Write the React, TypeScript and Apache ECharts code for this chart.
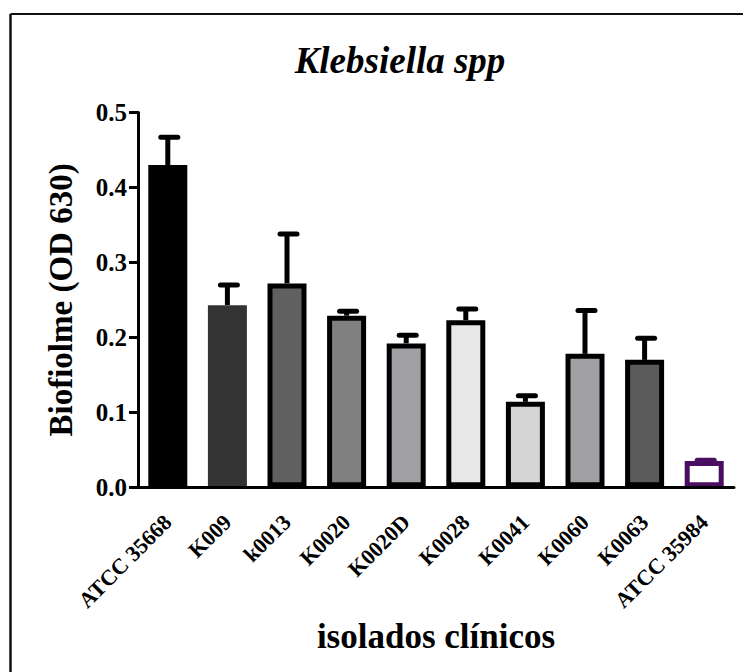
import React, { useEffect, useRef } from "react";
import * as echarts from "echarts";

const categories = ["ATCC 35668", "K009", "k0013", "K0020", "K0020D", "K0028", "K0041", "K0060", "K0063", "ATCC 35984"];
const means = [0.43, 0.243, 0.272, 0.229, 0.192, 0.223, 0.114, 0.178, 0.17, 0.035];
const errors = [0.037, 0.027, 0.066, 0.006, 0.011, 0.015, 0.008, 0.058, 0.029, 0.001];
const yTicks = [0, 0.1, 0.2, 0.3, 0.4, 0.5];
const titleText = "Klebsiella spp";
const yName = "Biofiolme (OD 630)";
const xName = "isolados clínicos";

const fillColors = ["#000000", "#333333", "#606060", "#808080", "#a0a0a4", "#e8e8e8", "#d4d4d4", "#a0a0a4", "#5a5a5a", "#ffffff"];
const borderColors = ["#000000", "#333333", "#000000", "#000000", "#000000", "#000000", "#000000", "#000000", "#000000", "#4b0d5f"];
const borderWidths = [0, 0, 5, 5, 5, 5, 5, 5, 5, 5];

const FONT = "'Times New Roman', 'Liberation Serif', 'DejaVu Serif', serif";

export default function App() {
  const ref = useRef<HTMLDivElement>(null);
  useEffect(() => {
    if (!ref.current) return;
    const chart = echarts.init(ref.current, null, { renderer: "svg" });
    const barData = means.map((v, i) => ({
      value: v,
      itemStyle: { color: fillColors[i], borderColor: borderColors[i], borderWidth: borderWidths[i] },
    }));
    const errData = means.map((v, i) => [i, v, v + errors[i]]);
    chart.setOption({
      animation: false,
      backgroundColor: "#ffffff",
      graphic: [
        { type: "line", shape: { x1: 10.5, y1: 14, x2: 743, y2: 14 }, style: { stroke: "#111", lineWidth: 2 } },
        { type: "line", shape: { x1: 10.5, y1: 14, x2: 10.5, y2: 672 }, style: { stroke: "#111", lineWidth: 2.5 } },
        {
          type: "text",
          x: 400,
          y: 60,
          style: {
            text: titleText,
            font: `italic bold 37px ${FONT}`,
            fill: "#000",
            align: "center",
            verticalAlign: "middle",
          },
        },
      ],
      grid: { left: 138, right: 9, top: 112.5, bottom: 184.7, containLabel: false },
      xAxis: {
        type: "category",
        z: 3,
        data: categories,
        name: xName,
        nameLocation: "middle",
        nameGap: 128,
        nameTextStyle: { fontFamily: FONT, fontWeight: "bold", fontSize: 35, color: "#000", verticalAlign: "top" },
        axisLine: { lineStyle: { color: "#000", width: 3 } },
        axisTick: { alignWithLabel: true, length: 9, lineStyle: { color: "#000", width: 3 } },
        axisLabel: {
          rotate: 45,
          margin: 31,
          interval: 0,
          fontFamily: FONT,
          fontWeight: "bold",
          fontSize: 22,
          color: "#000",
        },
      },
      yAxis: {
        type: "value",
        min: 0,
        max: 0.5,
        interval: 0.1,
        name: yName,
        nameLocation: "middle",
        nameGap: 61,
        nameTextStyle: { fontFamily: FONT, fontWeight: "bold", fontSize: 33, color: "#000" },
        axisLine: { show: true, lineStyle: { color: "#000", width: 3 } },
        axisTick: { show: true, length: 9, lineStyle: { color: "#000", width: 3 } },
        splitLine: { show: false },
        axisLabel: {
          margin: 11,
          fontFamily: FONT,
          fontWeight: "bold",
          fontSize: 25,
          color: "#000",
          formatter: (v: number) => (yTicks.some((t) => Math.abs(t - v) < 1e-9) ? v.toFixed(1) : ""),
        },
      },
      series: [
        {
          type: "custom",
          z: 1,
          data: errData,
          renderItem: (params: any, api: any) => {
            const i = api.value(0);
            const lo = api.coord([i, api.value(1)]);
            const hi = api.coord([i, api.value(2)]);
            const color = borderColors[i] === "#333333" ? "#000" : borderColors[i];
            return {
              type: "group",
              children: [
                {
                  type: "line",
                  shape: { x1: lo[0], y1: lo[1], x2: hi[0], y2: hi[1] },
                  style: { stroke: color, lineWidth: 5 },
                },
                {
                  type: "line",
                  shape: { x1: hi[0] - 7, y1: hi[1], x2: hi[0] + 10, y2: hi[1] },
                  style: { stroke: color, lineWidth: 5, lineCap: "round" },
                },
              ],
            };
          },
        },
        {
          type: "bar",
          z: 2,
          barWidth: 39,
          data: barData,
        },
      ],
    });
    return () => chart.dispose();
  }, []);
  return <div ref={ref} style={{ position: "fixed", left: 0, top: 0, width: 743, height: 672, background: "#fff" }} />;
}
